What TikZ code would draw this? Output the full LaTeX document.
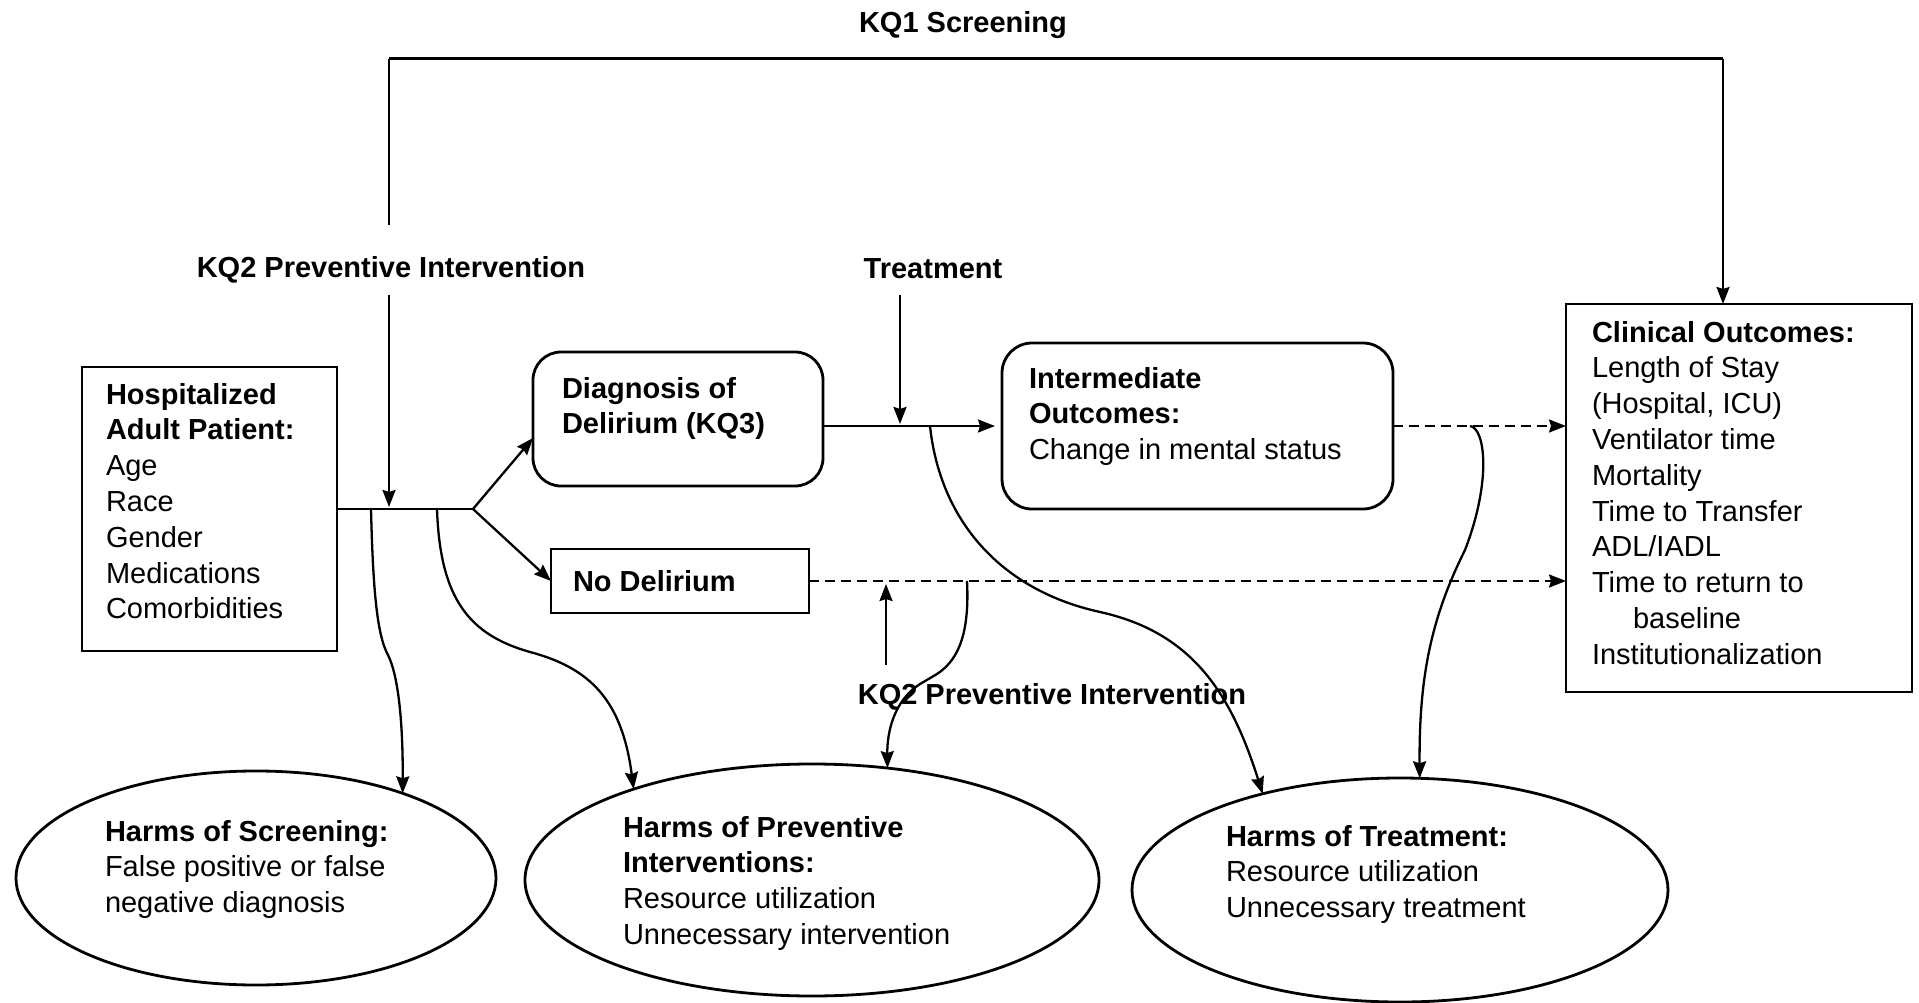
\documentclass[tikz,border=0pt]{standalone}
\usepackage{fontspec}
\setmainfont{Liberation Sans}
\usetikzlibrary{arrows.meta,shapes.geometric}
\begin{document}
\begin{tikzpicture}[x=1pt,y=-1pt,
  every node/.style={inner sep=0pt,outer sep=0pt},
  boxr/.style={draw,line width=2.8pt,rectangle},
  boxround/.style={boxr,rounded corners=28pt},
  oval/.style={draw,line width=2.8pt,ellipse},
  txt/.style={anchor=north west,align=left,font=\fontsize{29}{35.8}\selectfont},
  lbl/.style={anchor=base,font=\fontsize{29}{35.8}\selectfont\bfseries},
  conn/.style={line width=2.3pt},
  arr/.style={conn,-{Stealth[length=17pt,width=13pt,inset=2pt]}},
  dashln/.style={dash pattern=on 10pt off 6pt}]
\useasboundingbox (0,0) rectangle (1919,1003);
\fill[white] (0,0) rectangle (1919,1003);

% shapes
\node[boxr,minimum width=255pt,minimum height=284pt] (pat) at (209.5,509) {};
\node[boxround,minimum width=290pt,minimum height=134pt] (diag) at (678,419) {};
\node[boxr,minimum width=258pt,minimum height=64pt] (nodel) at (680,581) {};
\node[boxround,rounded corners=30pt,minimum width=391pt,minimum height=166pt] (inter) at (1197.5,426) {};
\node[boxr,minimum width=346pt,minimum height=388pt] (clin) at (1739,498) {};
\node[oval,minimum width=480pt,minimum height=214pt] (scr) at (256,878) {};
\node[oval,minimum width=574pt,minimum height=232pt] (prev) at (812,880) {};
\node[oval,minimum width=536pt,minimum height=224pt] (treat) at (1400,890) {};

% texts
\node[txt] (patT) at (106,379) {\strut\textbf{Hospitalized}\\\textbf{Adult Patient:}\\Age\\Race\\Gender\\Medications\\Comorbidities};
\node[txt] (diagT) at (562,373) {\strut\textbf{Diagnosis of}\\\textbf{Delirium (KQ3)}};
\node[txt] (nodelT) at (573,566) {\strut\textbf{No Delirium}};
\node[txt] (interT) at (1029,363) {\strut\textbf{Intermediate}\\\textbf{Outcomes:}\\Change in mental status};
\node[txt] (clinT) at (1592,317) {\strut\textbf{Clinical Outcomes:}\\Length of Stay\\(Hospital, ICU)\\Ventilator time\\Mortality\\Time to Transfer\\ADL/IADL\\Time to return to\\\hspace*{41pt}baseline\\Institutionalization};
\node[txt] (scrT) at (105,816) {\strut\textbf{Harms of Screening:}\\False positive or false\\negative diagnosis};
\node[txt] (prevT) at (623,812) {\strut\textbf{Harms of Preventive}\\\textbf{Interventions:}\\Resource utilization\\Unnecessary intervention};
\node[txt] (treatT) at (1226,821) {\strut\textbf{Harms of Treatment:}\\Resource utilization\\Unnecessary treatment};

% labels
\node[lbl] (kq1) at (963,33) {KQ1 Screening};
\node[lbl] (kq2a) at (391,277) {KQ2 Preventive Intervention};
\node[lbl] (trt) at (933,278) {Treatment};
\node[lbl] (kq2b) at (1052,704) {KQ2 Preventive Intervention};

% coordinates
\coordinate (kq1l) at (389,225);
\coordinate (kq1tl) at (389,59);
\coordinate (kq1tr) at (1723,59);
\coordinate (kq2s) at (389,295);
\coordinate (kq2e) at (389,507);
\coordinate (br) at (473,509);
\coordinate (trs) at (900,295);
\coordinate (tre) at (900,424);
\coordinate (ups) at (886,665);
\coordinate (upe) at (886,584);
\coordinate (c1) at (371,509);
\coordinate (c2) at (437,509);
\coordinate (c3) at (930,426);
\coordinate (c4) at (967,581);
\coordinate (c5) at (1470,426);

% connectors
\draw[conn] (kq1l) -- (kq1tl);
\draw[conn,line width=3pt] (kq1tl) -- (kq1tr);
\draw[arr] (kq1tr) -- (kq1tr |- clin.north);
\draw[arr] (kq2s) -- (kq2e);
\draw[conn] (pat.east) -- (br);
\draw[arr] (br) -- ([yshift=-19pt]diag.west);
\draw[arr] (br) -- (nodel.west);
\draw[arr,shorten >=7pt] (diag.east |- inter.west) -- (inter.west);
\draw[arr] (trs) -- (tre);
\draw[arr,dashln] (inter.east) -- (inter.east -| clin.west);
\draw[arr,dashln] (nodel.east) -- (nodel.east -| clin.west);
\draw[arr] (ups) -- (upe);

\draw[arr] (c1) .. controls (373,590) and (377,635) .. (388,655) .. controls (398,675) and (403,720) .. (scr.30);
\draw[arr] (c2) .. controls (440,600) and (470,635) .. (530,652) .. controls (590,668) and (622,700) .. (prev.153);
\draw[arr] (c3) .. controls (940,520) and (1000,590) .. (1100,612) .. controls (1190,632) and (1230,690) .. (treat.145);
\draw[arr] (c4) .. controls (970,640) and (955,662) .. (937,674) -- (920,684) .. controls (895,700) and (887,730) .. (prev.56);
\draw[arr] (c5) .. controls (1485,428) and (1492,480) .. (1465,550) .. controls (1430,620) and (1419,680) .. (treat.80);
\end{tikzpicture}
\end{document}
